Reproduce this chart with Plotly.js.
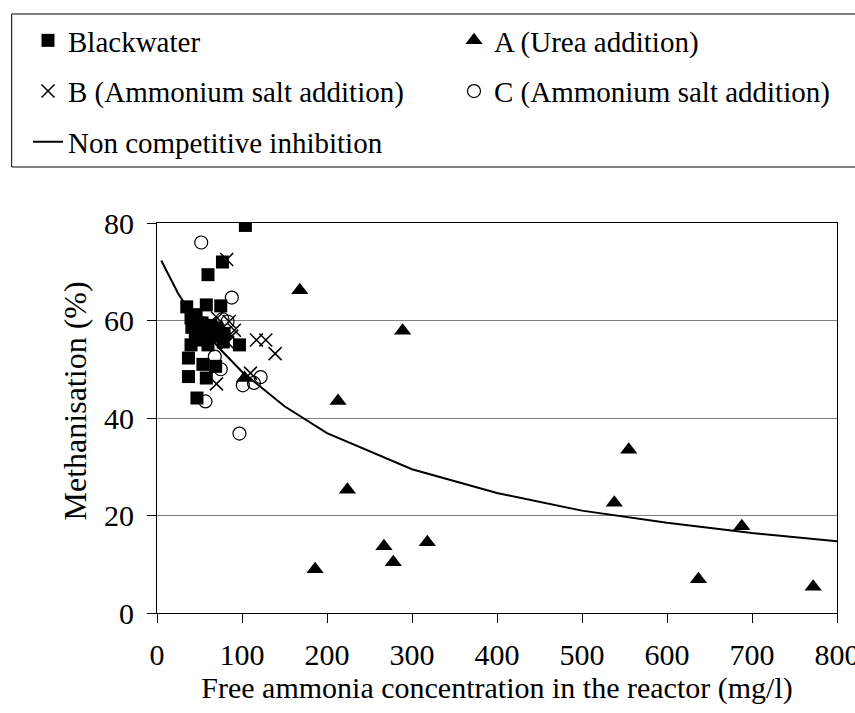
<!DOCTYPE html>
<html>
<head>
<meta charset="utf-8">
<script src="https://cdn.plot.ly/plotly-3.0.1.min.js"></script>
<style>html,body{margin:0;padding:0;background:#fff;}#chart{width:855px;height:713px;}</style>
</head>
<body>
<div id="chart"></div>
<script>
// Blackwater
const bwX = [104, 77, 60, 35, 58, 75, 40, 46, 53, 41, 48, 63, 70, 56, 79, 45, 78, 52, 66, 97, 60, 40, 37, 54, 69, 37, 58, 47];
const bwY = [79.5, 72, 69.4, 62.8, 63.2, 63, 60.5, 61.2, 59.5, 58.6, 58, 59, 58.5, 57.6, 57.3, 56.5, 55.6, 56, 56.8, 55, 55, 55, 52.3, 51, 50.6, 48.5, 48.2, 44.1];
// A (Urea addition)
const aX = [103, 168, 213, 224, 186, 267, 278, 289, 318, 538, 555, 637, 688, 772];
const aY = [48.2, 66.2, 43.5, 25.3, 9.0, 13.7, 10.4, 57.9, 14.5, 22.6, 33.5, 6.9, 17.8, 5.4];
// B (Ammonium salt addition)
const bX = [82, 85, 91, 88, 71, 62, 117, 128, 139, 70, 110, 83];
const bY = [72.5, 59.8, 58, 56.8, 60.5, 59.5, 56, 56, 53.2, 47, 49.2, 55.5];
// C (Ammonium salt addition)
const cX = [52, 88, 77, 83, 68, 75, 57, 101, 114, 122, 97];
const cY = [76, 64.7, 60.3, 59.8, 52.6, 50, 43.4, 46.7, 47.2, 48.4, 36.8];
// Non competitive inhibition
const ncX = [5, 25, 50, 75, 100, 150, 200, 300, 400, 500, 600, 700, 800];
const ncY = [72.3, 65.5, 59, 54, 49.5, 42.4, 36.9, 29.5, 24.6, 21.0, 18.5, 16.4, 14.7];

const xTicks = [0, 100, 200, 300, 400, 500, 600, 700, 800];
const yTicks = [0, 20, 40, 60, 80];
const xTitle = 'Free ammonia concentration in the reactor (mg/l)';
const yTitle = 'Methanisation (%)';

const FONT = 'Liberation Serif';

const traces = [
  {x: bwX, y: bwY, name: 'Blackwater', type: 'scatter', mode: 'markers', legend: 'legend', legendgroup: 'g1',
   marker: {symbol: 'square', size: 13, color: '#000'}},
  {x: aX, y: aY, name: 'A (Urea addition)', type: 'scatter', mode: 'markers', legend: 'legend2', legendgroup: 'g2',
   marker: {symbol: 'triangle-up', size: 15, color: '#000'}},
  {x: bX, y: bY, name: 'B (Ammonium salt addition)', type: 'scatter', mode: 'markers', legend: 'legend', legendgroup: 'g3',
   marker: {symbol: 'x-thin-open', size: 13, color: '#000', line: {color: '#000', width: 1.5}}},
  {x: cX, y: cY, name: 'C (Ammonium salt addition)', type: 'scatter', mode: 'markers', legend: 'legend2', legendgroup: 'g4',
   marker: {symbol: 'circle-open', size: 13, color: '#000', line: {color: '#000', width: 1.2}}},
  {x: ncX, y: ncY, name: 'Non competitive inhibition', type: 'scatter', mode: 'lines', legend: 'legend', legendgroup: 'g5',
   line: {color: '#000', width: 2}}
];

const legendCommon = {
  orientation: 'v', xref: 'container', yref: 'container', xanchor: 'left', yanchor: 'top',
  bgcolor: 'rgba(0,0,0,0)', borderwidth: 0, tracegroupgap: 10,
  font: {family: FONT, size: 29, color: '#000'}, itemclick: false, itemdoubleclick: false
};

const layout = {
  width: 855, height: 713,
  paper_bgcolor: '#fff', plot_bgcolor: '#fff',
  margin: {l: 157, r: 18, t: 223, b: 100, pad: 0, autoexpand: false},
  font: {family: FONT, size: 30, color: '#000'},
  showlegend: true,
  legend: Object.assign({}, legendCommon, {x: 28 / 855, y: 1 - 15 / 713}),
  legend2: Object.assign({}, legendCommon, {x: 454 / 855, y: 1 - 15 / 713}),
  xaxis: {
    range: [0, 800], tickvals: xTicks, ticktext: xTicks.map(String),
    ticks: 'outside', ticklen: 9, tickcolor: '#000', tickwidth: 1,
    ticklabelstandoff: 6, ticklabeloverflow: 'allow',
    showline: true, linecolor: '#000', linewidth: 1, mirror: true,
    showgrid: false, zeroline: false,
    tickfont: {family: FONT, size: 30, color: '#000'},
    title: {text: xTitle, font: {family: FONT, size: 30, color: '#000'}, standoff: 4}
  },
  yaxis: {
    range: [0, 80], tickvals: yTicks, ticktext: yTicks.map(String),
    ticks: 'outside', ticklen: 9, tickcolor: '#000', tickwidth: 1,
    ticklabelstandoff: 7,
    showline: true, linecolor: '#000', linewidth: 1, mirror: true,
    showgrid: true, gridcolor: '#808080', gridwidth: 1, zeroline: false,
    tickfont: {family: FONT, size: 30, color: '#000'}
  },
  annotations: [
    {text: yTitle, xref: 'paper', yref: 'paper', x: -0.1206, y: 0.545, xanchor: 'center', yanchor: 'middle',
     textangle: -90, showarrow: false, font: {family: FONT, size: 32, color: '#000'}}
  ],
  shapes: [
    {type: 'rect', xref: 'paper', yref: 'paper', x0: -0.2137, x1: 1.06, y0: 1.1436, y1: 1.5359,
     line: {color: '#000', width: 1}, fillcolor: 'rgba(0,0,0,0)', layer: 'below'}
  ]
};

Plotly.newPlot('chart', traces, layout, {displayModeBar: false, staticPlot: true});
</script>
</body>
</html>
